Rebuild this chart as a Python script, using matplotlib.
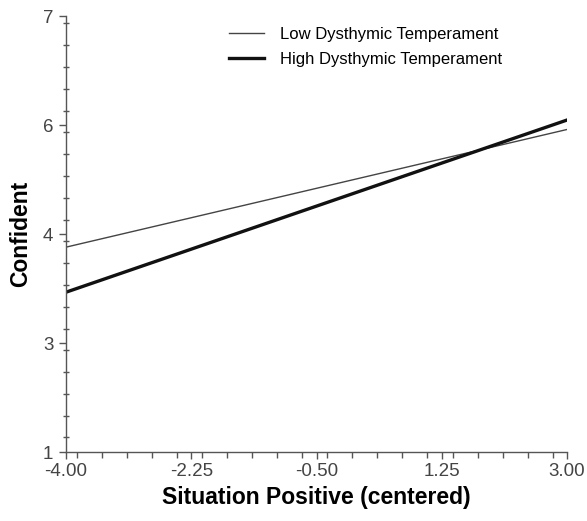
import matplotlib.pyplot as plt
from matplotlib.ticker import FixedLocator, MultipleLocator, FuncFormatter

plt.rcParams['font.family'] = ['Liberation Sans', 'DejaVu Sans']

x_ends = [-4.0, 3.0]
low_dysthymic = [3.82, 5.44]
high_dysthymic = [3.20, 5.57]

x_ticks = [-4.00, -2.25, -0.50, 1.25, 3.00]
y_ticks = [1, 2.5, 4, 5.5, 7]

fig = plt.figure(figsize=(5.87, 5.21), dpi=100)
ax = fig.add_axes([0.1124, 0.1324, 0.8536, 0.8366])

ax.plot(x_ends, low_dysthymic, color="#444444", lw=1.0, label="Low Dysthymic Temperament")
ax.plot(x_ends, high_dysthymic, color="#111111", lw=2.4, label="High Dysthymic Temperament")

ax.set_xlim(-4, 3)
ax.set_ylim(1, 7)
ax.xaxis.set_major_locator(FixedLocator(x_ticks))
ax.xaxis.set_minor_locator(MultipleLocator(0.35))
ax.yaxis.set_major_locator(FixedLocator(y_ticks))
ax.yaxis.set_minor_locator(MultipleLocator(0.3))
ax.xaxis.set_major_formatter(FuncFormatter(lambda v, p: "%.2f" % v))
ax.yaxis.set_major_formatter(FuncFormatter(lambda v, p: "%d" % round(v + 1e-9)))

for s in ["top", "right"]:
    ax.spines[s].set_visible(False)
for s in ["left", "bottom"]:
    ax.spines[s].set_color("#555555")
    ax.spines[s].set_linewidth(1.0)

ax.tick_params(which="major", length=5, width=1, color="#555555", labelcolor="#444444", labelsize=13.5)
ax.tick_params(which="minor", length=4, width=1, color="#555555")
ax.tick_params(axis="x", which="both", direction="out", pad=3)
ax.tick_params(axis="y", which="major", direction="out", pad=4)
ax.tick_params(axis="y", which="minor", direction="inout", length=4)

ax.set_xlabel("Situation Positive (centered)", fontsize=16.5, fontweight="bold", labelpad=4)
ax.set_ylabel("Confident", fontsize=16.5, fontweight="bold", labelpad=8)

ax.legend(loc="upper left", bbox_to_anchor=(0.295, 1.01), frameon=False, fontsize=12,
          handlelength=2.1, labelspacing=0.6, handletextpad=1.0)

fig.savefig("out.png", dpi=100)
